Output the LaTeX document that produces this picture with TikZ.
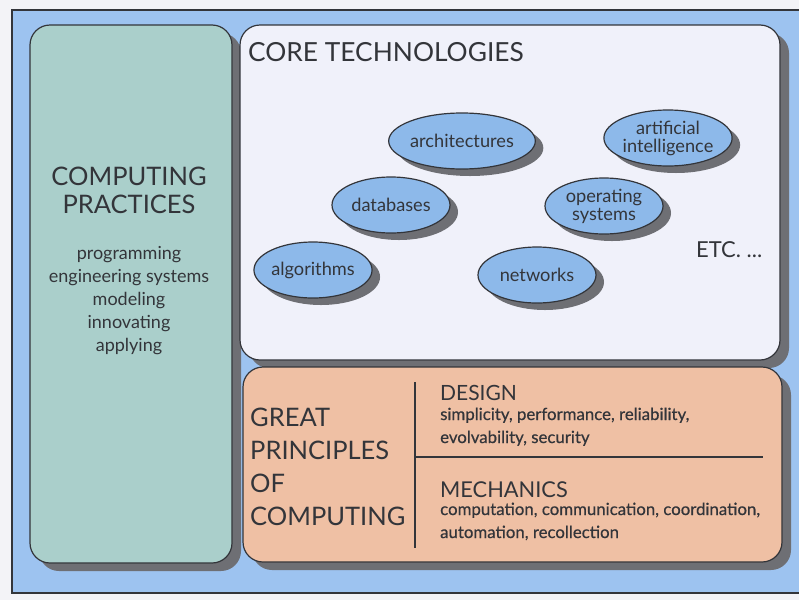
\documentclass[tikz,border=0pt]{standalone}
\usepackage{fontspec}
\setmainfont{Lato}
\newfontfamily\latofb[FakeBold=0.5]{Lato}
\usetikzlibrary{shapes.geometric,shadows}
\definecolor{paper}{HTML}{F3F3F7}
\definecolor{bgblue}{HTML}{9DC3F0}
\definecolor{teal}{HTML}{AACFCB}
\definecolor{corew}{HTML}{F0F1FA}
\definecolor{salmon}{HTML}{EFC0A4}
\definecolor{ellblue}{HTML}{8DB9EA}
\definecolor{shad}{HTML}{6E6F74}
\definecolor{ink}{HTML}{33353A}
\tikzset{
  panel/.style={draw=ink, line width=1.2pt, rounded corners=20pt, inner sep=0pt,
    drop shadow={shadow xshift=9pt, shadow yshift=-8pt, fill=shad, opacity=1}},
  tech/.style={ellipse, draw=ink, line width=1.2pt, fill=ellblue, inner sep=0pt,
    minimum width=118pt, minimum height=56pt, align=center, text=ink,
    font=\fontsize{18.2}{18}\selectfont,
    drop shadow={shadow xshift=8pt, shadow yshift=-7pt, fill=shad, opacity=1}},
  lbl/.style={text=ink, inner sep=0pt},
}
\begin{document}
\begin{tikzpicture}[x=1pt,y=-1pt]
\useasboundingbox (0,0) rectangle (799,600);
\fill[paper] (0,0) rectangle (799,600);
\fill[bgblue] (12,10) rectangle (799,593);
\draw[ink, line width=1.2pt] (799,10) -- (12,10) -- (12,593) -- (799,593);

% panels
\node[panel, fill=teal, minimum width=202pt, minimum height=538pt] (practices) at (131,294) {};
\node[panel, fill=corew, minimum width=540pt, minimum height=335pt] (core) at (510,192.5) {};
\node[panel, fill=salmon, minimum width=539pt, minimum height=195pt] (great) at (512.5,464.5) {};

% left panel text (base anchor = last line baseline)
\node[lbl, anchor=base, align=center, font=\fontsize{25.5}{28}\selectfont] (cptitle) at (129,213) {COMPUTING\\PRACTICES};
\node[lbl, anchor=base, align=center, font=\fontsize{18}{23}\selectfont] (cpitems) at (129,351)
  {programming\\engineering systems\\modeling\\innovating\\applying};

% core technologies
\node[lbl, anchor=base west, font=\fontsize{26.3}{28}\selectfont] (cttitle) at (248,61) {CORE TECHNOLOGIES};
\node[tech] (arch) at (462,141) {architectures};
\node[tech] (ai) at (668,138) {artificial\\intelligence};
\node[tech] (db) at (391,205) {databases};
\node[tech] (os) at (604,206) {operating\\systems};
\node[tech] (alg) at (313,270) {algorithms};
\node[tech] (net) at (537,275) {networks};
\node[lbl, anchor=base west, font=\fontsize{22}{24}\selectfont] (etc) at (696,257) {ETC. ...};

% great principles
\node[lbl, anchor=base west, align=left, font=\fontsize{25.5}{33}\selectfont] (gptitle) at (250,525)
  {GREAT\\PRINCIPLES\\OF\\COMPUTING};
\coordinate (vtop) at (415,382);
\coordinate (vbot) at (415,548);
\coordinate (hl) at (415,457);
\coordinate (hr) at (763,457);
\draw[ink, line width=1.6pt] (vtop) -- (vbot);
\draw[ink, line width=1.6pt] (hl) -- (hr);
\node[lbl, anchor=base west, font=\fontsize{21}{24}\selectfont] (design) at (440,400) {DESIGN};
\node[lbl, anchor=base west, align=left, font=\latofb\fontsize{16.8}{23}\selectfont] (designtxt) at (440,443)
  {simplicity, performance, reliability,\\evolvability, security};
\node[lbl, anchor=base west, font=\fontsize{21.8}{24}\selectfont] (mech) at (440,497) {MECHANICS};
\node[lbl, anchor=base west, align=left, font=\latofb\fontsize{16.8}{23}\selectfont] (mechtxt) at (440,538)
  {computation, communication, coordination,\\automation, recollection};
\end{tikzpicture}
\end{document}
